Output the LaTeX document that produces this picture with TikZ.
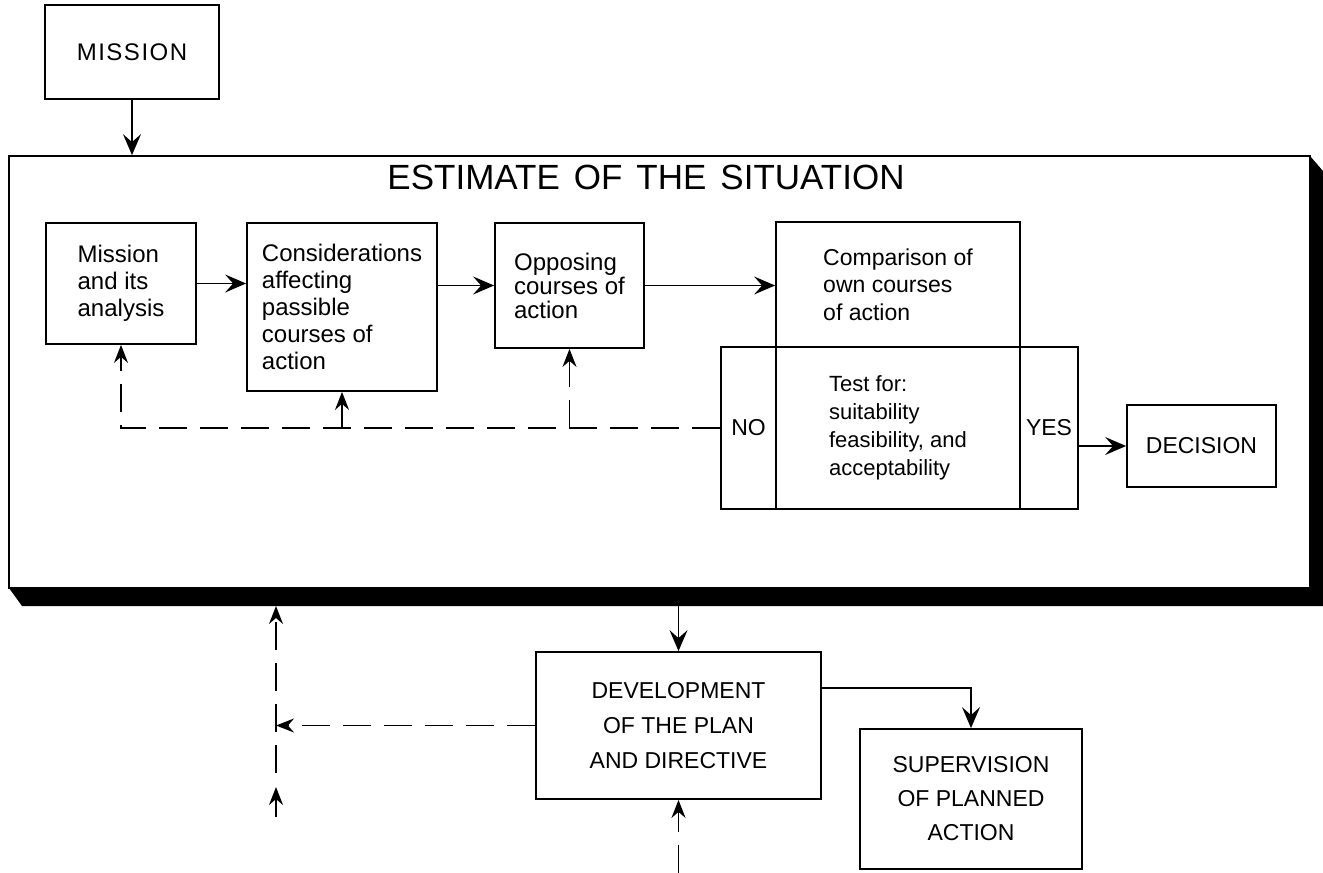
\documentclass[tikz,border=0pt]{standalone}
\usepackage{fontspec}
\setmainfont{Liberation Sans}
\usetikzlibrary{arrows.meta}
\begin{document}
\begin{tikzpicture}[x=1pt,y=-1pt,
  every node/.style={font=\fontsize{24}{27}\selectfont},
  box/.style={draw, line width=1.8pt, inner sep=0pt, align=left},
  capbox/.style={draw, line width=1.8pt, inner sep=0pt, align=center},
  conn/.style={line width=1.8pt, -{Stealth[length=21pt,width=18pt,inset=8pt]}},
  dconn/.style={line width=1.8pt, dash pattern=on 28pt off 13pt, -{Stealth[length=18pt,width=14pt,inset=6pt]}},
  dline/.style={line width=1.8pt, dash pattern=on 28pt off 13pt}]
\useasboundingbox (0,0) rectangle (1323,873);
% outer estimate frame and its shadow
\node[draw, line width=1.8pt, minimum width=1301pt, minimum height=432pt, inner sep=0pt] (est) at (659.5,372) {};
\fill[black] (9,588) -- (22,606) -- (1323,606) -- (1323,171) -- (1310,156) -- (1310,588) -- cycle;
\node (title) at (646,177) {\fontsize{35}{38}\selectfont ESTIMATE\hspace{14pt}OF\hspace{14pt}THE\hspace{14pt}SITUATION};
% nodes
\node[capbox, minimum width=174pt, minimum height=94pt] (mission) at (132,52) {M\hspace{1.5pt}I\hspace{1.5pt}S\hspace{1.5pt}S\hspace{1.5pt}I\hspace{1.5pt}O\hspace{1.5pt}N};
\node[box, minimum width=150pt, minimum height=121pt] (m1) at (121,283.5) {Mission\\and its\\analysis};
\node[box, minimum width=190pt, minimum height=168pt] (cons) at (342,307) {Considerations\\affecting\\passible\\courses of\\action};
\node[box, minimum width=149pt, minimum height=125pt, font=\fontsize{24}{24}\selectfont] (opp) at (569.5,285.5) {Opposing\\courses of\\action};
\node[box, minimum width=244pt, minimum height=125pt, font=\fontsize{23}{27.5}\selectfont] (comp) at (898,284.5) {Comparison of\\own courses\\of action};
\node[box, minimum width=244pt, minimum height=162pt, font=\fontsize{22}{28}\selectfont] (test) at (898,428) {Test for:\\suitability\\feasibility, and\\acceptability};
\node[capbox, minimum width=55pt, minimum height=162pt, font=\fontsize{23}{27}\selectfont] (no) at (748.5,428) {NO};
\node[capbox, minimum width=58pt, minimum height=162pt, font=\fontsize{23}{27}\selectfont] (yes) at (1049,428) {YES};
\node[capbox, minimum width=149pt, minimum height=82pt, font=\fontsize{23}{27}\selectfont] (dec) at (1201.5,446) {DECISION};
\node[capbox, minimum width=285pt, minimum height=147pt, font=\fontsize{23}{35}\selectfont] (dev) at (678.5,725.5) {DEVELOPMENT\\OF THE PLAN\\AND DIRECTIVE};
\node[capbox, minimum width=222pt, minimum height=140pt, font=\fontsize{23}{34}\selectfont] (sup) at (971,799) {SUPERVISION\\OF PLANNED\\ACTION};
% helper coordinates
\coordinate (shb) at (0,606);
\coordinate (vt) at (276,606);
\coordinate (vm) at (276,787);
\coordinate (vg) at (276,773);
\coordinate (vb) at (276,817);
\coordinate (bt) at (0,873);
% solid connectors
\draw[conn] (mission.south) -- (mission.south |- est.north);
\draw[conn] (m1.east) -- (m1.east -| cons.west);
\draw[conn] (cons.east |- opp.west) -- (opp.west);
\draw[conn, line width=1.3pt] (opp.east) -- (opp.east -| comp.west);
\draw[conn] (dec.west -| yes.east) -- (dec.west);
\draw[conn] (dev.north |- shb) -- (dev.north);
\draw[conn] ([yshift=-37pt]dev.north east) -| (sup.north);
% dashed feedback
\draw[dconn] (no.west) -- (m1.south |- no.west) -- (m1.south);
\draw[dconn] (cons.south |- no.west) -- (cons.south);
\draw[dconn] (opp.south |- no.west) -- (opp.south);
\draw[dconn] (dev.west) -- (dev.west -| vt);
\draw[dconn] (vg) -- (vt);
\draw[line width=1.8pt, -{Stealth[length=18pt,width=14pt,inset=6pt]}] (vb) -- (vm);
\draw[dconn] (dev.south |- bt) -- (dev.south);
\end{tikzpicture}
\end{document}
